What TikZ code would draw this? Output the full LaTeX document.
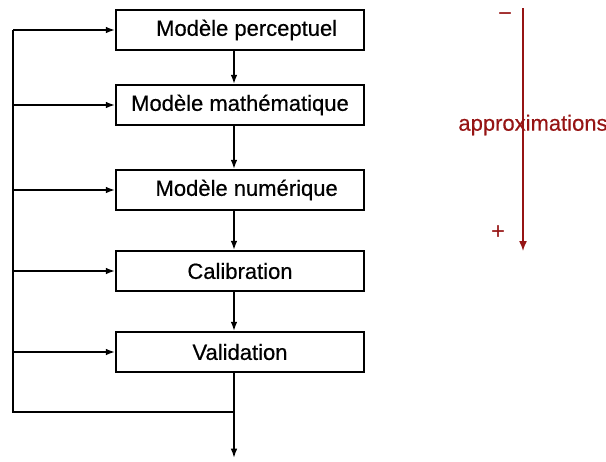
\documentclass[tikz,border=0pt]{standalone}
\usepackage{fontspec}
\setmainfont{Liberation Sans}
\newfontfamily\labelfont{Liberation Sans}[FakeBold=0.5]
\usetikzlibrary{arrows.meta}
\definecolor{approxred}{RGB}{150,20,20}
\begin{document}
\begin{tikzpicture}[x=0.75pt,y=-0.75pt,
  stagebox/.style={draw, line width=1.3pt, minimum width=186pt, minimum height=30pt,
    inner sep=0pt, font=\labelfont\fontsize{16.5}{19}\selectfont},
  flow/.style={line width=1.3pt, -{Latex[length=7pt,width=5pt]}},
  plain/.style={line width=1.3pt},
  redarrow/.style={line width=1.1pt, draw=approxred, -{Latex[length=7.5pt,width=6pt]}}]
\useasboundingbox (0,0) rectangle (606,461);

% stages of the modelling chain
\node[stagebox] (b1) at (240,30)  {\hspace*{10pt}Modèle perceptuel};
\node[stagebox] (b2) at (240,105) {Modèle mathématique};
\node[stagebox] (b3) at (240,190) {\hspace*{10pt}Modèle numérique};
\node[stagebox] (b4) at (240,271) {Calibration};
\node[stagebox] (b5) at (240,352) {Validation};

% spine, feedback loop and exit
\coordinate (sp)   at (234,0);
\coordinate (join) at (234,412);
\coordinate (left) at (13,412);
\coordinate (out)  at (234,458);

\draw[flow] (b1.south -| sp) -- (b2.north -| sp);
\draw[flow] (b2.south -| sp) -- (b3.north -| sp);
\draw[flow] (b3.south -| sp) -- (b4.north -| sp);
\draw[flow] (b4.south -| sp) -- (b5.north -| sp);
\draw[flow] (b5.south -| sp) -- (out);

\draw[plain] (join) -- (left) -- (left |- b1.west);
\draw[flow] (left |- b1.west) -- (b1.west);
\draw[flow] (left |- b2.west) -- (b2.west);
\draw[flow] (left |- b3.west) -- (b3.west);
\draw[flow] (left |- b4.west) -- (b4.west);
\draw[flow] (left |- b5.west) -- (b5.west);

% approximation scale
\node[text=approxred, font=\labelfont\fontsize{16.5}{19}\selectfont, inner sep=0pt] (ap) at (533,125) {approximations};
\coordinate (atop) at (523,8);
\coordinate (abot) at (523,251);
\draw[redarrow] (atop) -- (abot);
\node[text=approxred, font=\fontsize{18}{20}\selectfont, inner sep=0pt] (mn) at (505,17) {−};
\node[text=approxred, font=\fontsize{18}{20}\selectfont, inner sep=0pt] (pl) at (498,233) {+};
\end{tikzpicture}
\end{document}
